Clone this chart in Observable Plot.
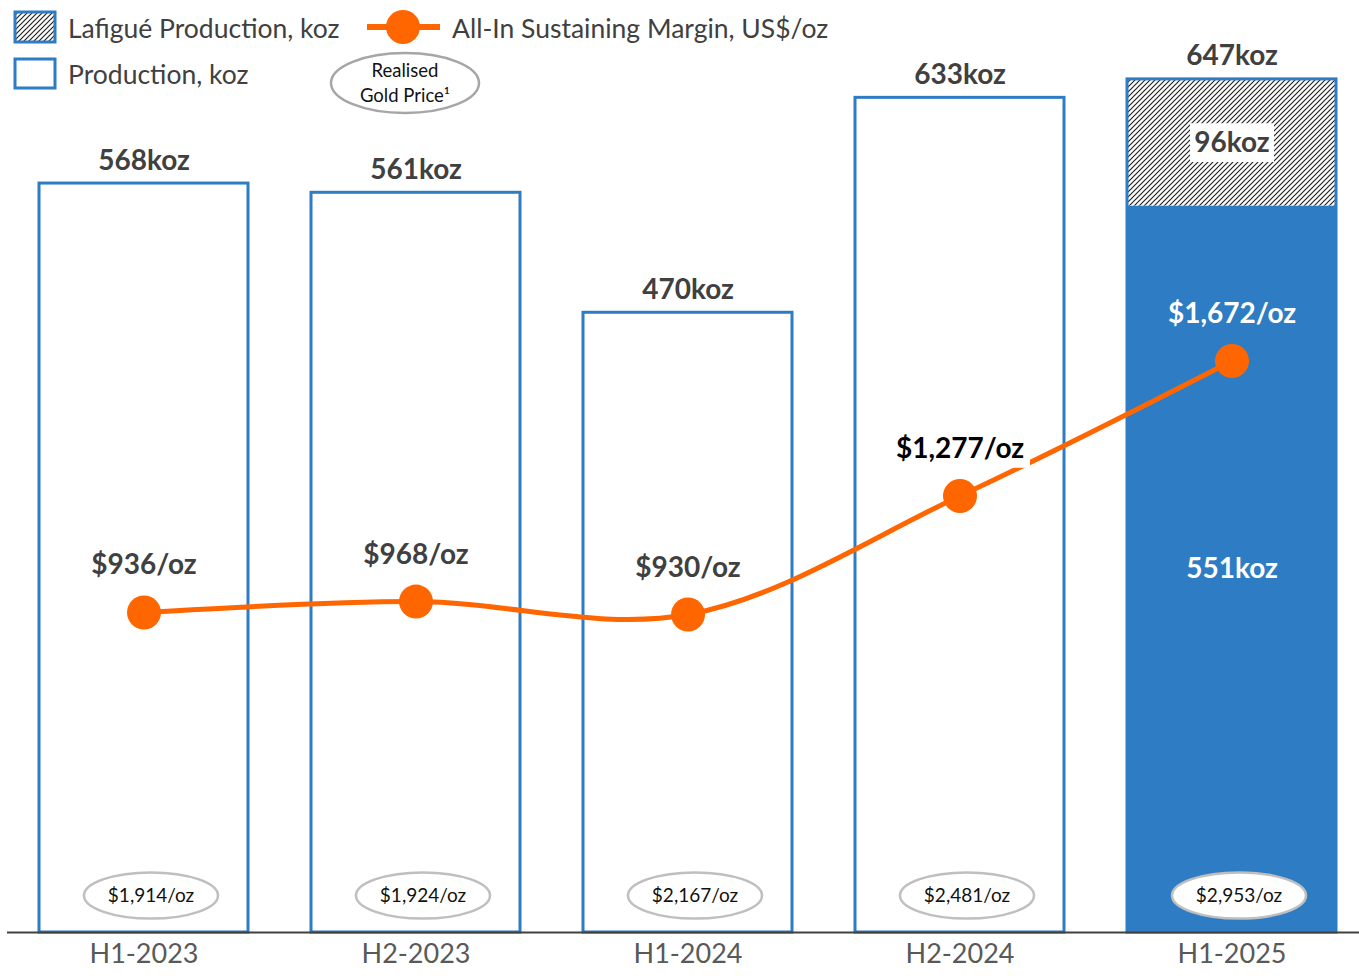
<!DOCTYPE html>
<html>
<head>
<meta charset="utf-8">
<script src="https://cdn.jsdelivr.net/npm/d3@7"></script>
<script src="https://cdn.jsdelivr.net/npm/@observablehq/plot@0.6"></script>
<style>
  html, body { margin: 0; padding: 0; background: #fff; }
  #wrap { position: relative; width: 1359px; height: 976px; font-family: Lato, "Open Sans", sans-serif; }
  #legend { position: absolute; left: 0; top: 0; }
</style>
</head>
<body>
<div id="wrap">
  <div id="chart"></div>
  <svg id="legend" width="860" height="120" font-family="Lato, 'Open Sans', sans-serif">
    <defs>
      <pattern id="hatchL" patternUnits="userSpaceOnUse" width="5" height="5">
        <rect width="5" height="5" fill="#fff"></rect>
        <path d="M-1,1 l2,-2 M0,5 l5,-5 M4,6 l2,-2" stroke="#222" stroke-width="1.2"></path>
      </pattern>
    </defs>
    <rect x="15" y="12" width="40" height="30" fill="url(#hatchL)" stroke="#2E7CC4" stroke-width="3"></rect>
    <text x="68" y="29" dy="0.35em" font-size="26.5" fill="#404040">Lafigué Production, koz</text>
    <rect x="15" y="59" width="40" height="29" fill="#fff" stroke="#2E7CC4" stroke-width="3"></rect>
    <text x="68" y="75" dy="0.35em" font-size="26.5" fill="#404040">Production, koz</text>
    <line x1="367" x2="440" y1="27" y2="27" stroke="#FF6600" stroke-width="6"></line>
    <circle cx="403" cy="27" r="17" fill="#FF6600"></circle>
    <text x="452" y="29" dy="0.35em" font-size="26.5" fill="#404040">All-In Sustaining Margin, US$/oz</text>
    <ellipse cx="405" cy="83" rx="74" ry="30" fill="#fff" stroke="#a6a6a6" stroke-width="2.5"></ellipse>
    <text x="405" y="71" dy="0.35em" font-size="18.5" fill="#111" text-anchor="middle">Realised</text>
    <text x="405" y="96" dy="0.35em" font-size="18.5" fill="#111" text-anchor="middle">Gold Price¹</text>
  </svg>
</div>
<script>
// ---- Data ----
const categories = ["H1-2023", "H2-2023", "H1-2024", "H2-2024", "H1-2025"];
const totalProduction = [568, 561, 470, 633, 647];   // koz
const baseProduction = [568, 561, 470, 633, 551];    // koz (excluding Lafigué)
const lafigueProduction = [0, 0, 0, 0, 96];          // koz
const aisMargin = [936, 968, 930, 1277, 1672];       // US$/oz
const goldPrice = [1914, 1924, 2167, 2481, 2953];    // US$/oz

// secondary axis: 0..2700 US$/oz maps onto 0..700 koz
const KOZ_MAX = 700, MARGIN_MAX = 2700;
const toKoz = v => v * KOZ_MAX / MARGIN_MAX;

const rows = categories.map((c, i) => ({
  cat: c,
  total: totalProduction[i],
  base: baseProduction[i],
  lafigue: lafigueProduction[i],
  margin: aisMargin[i],
  gold: goldPrice[i],
  last: i === categories.length - 1
}));

const BLUE = "#2E7CC4", ORANGE = "#FF6600", DARK = "#404040";
const fmt = d3.format(",");

const ellipseSymbol = {
  draw(ctx, size) {
    const r = Math.sqrt(size / Math.PI);
    const rx = r, ry = r * 0.345, k = 0.5523;
    ctx.moveTo(rx, 0);
    ctx.bezierCurveTo(rx, ry * k, rx * k, ry, 0, ry);
    ctx.bezierCurveTo(-rx * k, ry, -rx, ry * k, -rx, 0);
    ctx.bezierCurveTo(-rx, -ry * k, -rx * k, -ry, 0, -ry);
    ctx.bezierCurveTo(rx * k, -ry, rx, -ry * k, rx, 0);
    ctx.closePath();
  }
};
const rectSymbol = (aspect) => ({
  draw(ctx, size) {
    const r = Math.sqrt(size / Math.PI);
    const h = r * aspect;
    ctx.rect(-r, -h, 2 * r, 2 * h);
  }
});

const lastRows = rows.filter(d => d.last);
const otherRows = rows.filter(d => !d.last);

const chart = Plot.plot({
  width: 1359,
  height: 976,
  marginTop: 9,
  marginBottom: 44,
  marginLeft: 7,
  marginRight: 0,
  style: { fontFamily: "Lato, 'Open Sans', sans-serif", background: "#fff" },
  x: { domain: categories, paddingInner: 0.232, paddingOuter: 0.099, align: 0.583, label: null },
  y: { domain: [0, KOZ_MAX], axis: null },
  marks: [
    // production bars
    Plot.barY(otherRows, { x: "cat", y: "base", fill: "#fff" }),
    Plot.barY(lastRows, { x: "cat", y: "base", fill: BLUE }),
    Plot.barY(lastRows, { x: "cat", y1: "base", y2: "total", fill: "url(#hatch)" }),
    Plot.barY(rows, { x: "cat", y: "total", fill: "none", stroke: BLUE, strokeWidth: 3 }),
    // baseline
    Plot.ruleY([0], { stroke: DARK, strokeWidth: 2 }),
    Plot.axisX({ tickSize: 0, tickPadding: 11, fontSize: 27, fill: "#595959", label: null }),
    // totals
    Plot.text(rows, { x: "cat", y: "total", text: d => `${d.total}koz`, dy: -23, fontSize: 28, fontWeight: "bold", fill: DARK }),
    // lafigué segment label box + label
    Plot.dot(lastRows, { x: "cat", y: d => d.base + d.lafigue / 2, r: 42, symbol: rectSymbol(0.46), fill: "#fff", stroke: "none" }),
    Plot.text(lastRows, { x: "cat", y: d => d.base + d.lafigue / 2, text: d => `${d.lafigue}koz`, fontSize: 28, fontWeight: "bold", fill: DARK }),
    Plot.text(lastRows, { x: "cat", y: d => d.base / 2, text: d => `${d.base}koz`, fontSize: 28, fontWeight: "bold", fill: "#fff" }),
    // margin line
    Plot.line(rows, { x: "cat", y: d => toKoz(d.margin), stroke: ORANGE, strokeWidth: 5, curve: "catmull-rom" }),
    Plot.dot(rows, { x: "cat", y: d => toKoz(d.margin), r: 17, fill: ORANGE, stroke: "none" }),
    // white box behind H2-2024 margin label
    Plot.dot(rows.filter(d => d.cat === "H2-2024"), { x: "cat", y: d => toKoz(d.margin), dy: -47, r: 70, symbol: rectSymbol(0.27), fill: "#fff", stroke: "none" }),
    Plot.text(rows, {
      x: "cat", y: d => toKoz(d.margin), text: d => `$${fmt(d.margin)}/oz`, dy: -47,
      fontSize: 28, fontWeight: "bold",
      fill: d => d.last ? "#ffffff" : d.cat === "H2-2024" ? "#000000" : DARK
    }),
    // realised gold price ellipses
    Plot.dot(rows, { x: "cat", y: () => 0, dy: -37, dx: 7, r: 67, symbol: ellipseSymbol, fill: "#fff", stroke: "#bfbfbf", strokeWidth: 2.5 }),
    Plot.text(rows, { x: "cat", y: () => 0, dy: -37, dx: 7, text: d => `$${fmt(d.gold)}/oz`, fontSize: 19, fill: "#111" })
  ],
  color: { type: "identity" }
});

// hatch pattern definition
const ns = "http://www.w3.org/2000/svg";
const defs = document.createElementNS(ns, "defs");
const pat = document.createElementNS(ns, "pattern");
pat.setAttribute("id", "hatch");
pat.setAttribute("patternUnits", "userSpaceOnUse");
pat.setAttribute("width", "5");
pat.setAttribute("height", "5");
const bg = document.createElementNS(ns, "rect");
bg.setAttribute("width", "5"); bg.setAttribute("height", "5"); bg.setAttribute("fill", "#fff");
const p = document.createElementNS(ns, "path");
p.setAttribute("d", "M-1,1 l2,-2 M0,5 l5,-5 M4,6 l2,-2");
p.setAttribute("stroke", "#222");
p.setAttribute("stroke-width", "1.2");
pat.appendChild(bg); pat.appendChild(p); defs.appendChild(pat);
chart.insertBefore(defs, chart.firstChild);

document.getElementById("chart").appendChild(chart);
</script>
</body>
</html>
